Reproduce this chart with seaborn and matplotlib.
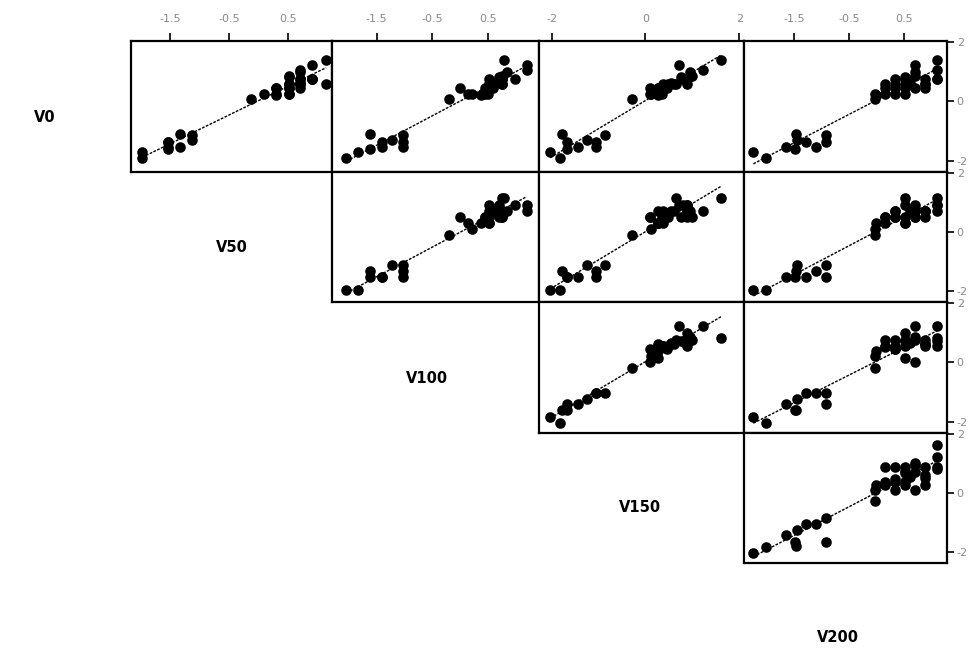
import matplotlib
matplotlib.use("Agg")
import matplotlib.pyplot as plt
import pandas as pd
import seaborn as sns

# Observations: 10 low, 2 middle, 26 high
V0 = [-1.89, -1.70, -1.09, -1.36, -1.59, -1.53, -1.31, -1.36, -1.53, -1.14,
      0.07, 0.24,
      0.20, 0.43, 0.59, 0.59, 0.26, 0.76, 0.76, 0.59, 0.43, 0.26,
      0.85, 1.21, 0.43, 0.76, 0.59, 0.43, 1.40, 1.04, 0.76, 0.60,
      0.82, 0.99, 0.43, 0.59, 0.26, 0.76]
V50 = [-1.98, -1.98, -1.33, -1.54, -1.54, -1.54, -1.13, -1.54, -1.33, -1.13,
       -0.12, 0.10,
       0.30, 0.30, 0.51, 0.71, 0.51, 0.71, 0.91, 1.15, 0.30, 0.30,
       0.51, 0.91, 0.51, 0.71, 0.51, 0.71, 1.15, 0.71, 0.91, 0.71,
       0.51, 0.71, 0.51, 0.71, 0.51, 0.91]
V100 = [-2.04, -1.83, -1.61, -1.40, -1.61, -1.40, -1.23, -1.02, -1.02, -1.02,
        -0.20, 0.21,
        0.37, 0.53, 0.76, 0.53, 0.45, 0.76, 0.98, 0.76, 0.53, 0.15,
        0.76, 1.20, 0.00, 0.76, 0.53, 0.60, 0.80, 1.20, 0.53, 0.65,
        0.70, 0.85, 0.45, 0.60, 0.50, 0.70]
V150 = [-1.82, -2.03, -1.78, -1.67, -1.67, -1.43, -1.25, -1.05, -1.05, -0.86,
        -0.29, 0.11,
        0.26, 0.26, 0.88, 0.37, 0.09, 0.88, 0.88, 0.66, 0.37, 0.26,
        1.00, 0.71, 0.09, 0.88, 0.49, 0.26, 1.62, 1.22, 0.88, 0.55,
        0.75, 0.95, 0.45, 0.60, 0.35, 0.80]
V200 = [-2.02, -2.25, -1.47, -0.92, -1.49, -1.65, -1.46, -1.29, -1.10, -0.92,
        -0.03, -0.03,
        -0.02, 0.15, 0.15, 0.34, 0.34, 0.34, 0.52, 0.52, 0.52, 0.52,
        0.70, 0.70, 0.70, 0.88, 0.88, 0.88, 1.10, 1.10, 1.10, 0.60,
        0.52, 0.70, 0.34, 0.88, 0.15, 1.10]

names = ["V0", "V50", "V100", "V150", "V200"]
df = pd.DataFrame({"V0": V0, "V50": V50, "V100": V100, "V150": V150, "V200": V200})

x_ranges = {"V50": (-2.17, 1.25), "V100": (-2.30, 1.42),
            "V150": (-2.27, 2.10), "V200": (-2.42, 1.28)}
x_ticks = {"V50": [-1.5, -0.5, 0.5], "V100": [-1.5, -0.5, 0.5],
           "V150": [-2, 0, 2], "V200": [-1.5, -0.5, 0.5]}
y_range = (-2.37, 2.02)
y_ticks = [-2, 0, 2]

sns.set_theme(style="white")
plt.rcParams["font.family"] = ["DejaVu Sans"]
plt.rcParams["axes.unicode_minus"] = False

W, H = 978, 649
fig = plt.figure(figsize=(W / 100, H / 100), dpi=100)
fig.patch.set_facecolor("white")

col_edges = [131, 332, 539, 744, 947]   # columns V50..V200
row_edges = [41, 172, 302, 433, 563]    # rows V0..V150

tick_color = "#8a8a8a"

for i in range(4):
    for j in range(i + 1, 5):
        x0, x1 = col_edges[j - 1], col_edges[j]
        y0, y1 = row_edges[i], row_edges[i + 1]
        ax = fig.add_axes([x0 / W, 1 - y1 / H, (x1 - x0) / W, (y1 - y0) / H])
        sns.regplot(data=df, x=names[j], y=names[i], ax=ax, ci=None,
                    scatter_kws=dict(s=58, color="black", linewidths=0, alpha=1),
                    line_kws=dict(color="black", lw=1.0, ls=(0, (2, 1))))
        ax.set_xlim(*x_ranges[names[j]])
        ax.set_ylim(*y_range)
        ax.set_xlabel("")
        ax.set_ylabel("")
        ax.set_facecolor("white")
        for sp in ax.spines.values():
            sp.set_color("black")
            sp.set_linewidth(1.6)

        if i == 0:
            ax.xaxis.set_ticks_position("top")
            ax.set_xticks(x_ticks[names[j]])
            ax.set_xticklabels([f"{t:g}" for t in x_ticks[names[j]]])
            ax.tick_params(axis="x", top=True, bottom=False, labeltop=True,
                           labelbottom=False, direction="out", length=6,
                           width=1.2, color="black", labelsize=8,
                           labelcolor=tick_color, pad=6)
        else:
            ax.set_xticks([])

        if j == 4:
            ax.yaxis.set_ticks_position("right")
            ax.set_yticks(y_ticks)
            ax.set_yticklabels([f"{t:g}" for t in y_ticks])
            ax.tick_params(axis="y", right=True, left=False, labelright=True,
                           labelleft=False, direction="out", length=5,
                           width=1.2, color="black", labelsize=8,
                           labelcolor=tick_color, pad=2)
        else:
            ax.set_yticks([])

# Variable names along the diagonal
label_pos = [(45, 118), (232, 248), (427, 378), (640, 507), (838, 637)]
for name, (px, py) in zip(names, label_pos):
    fig.text(px / W, 1 - py / H, name, ha="center", va="center",
             fontsize=10.5, fontweight="bold", color="black")

fig.savefig("out.png", dpi=100, facecolor="white")
